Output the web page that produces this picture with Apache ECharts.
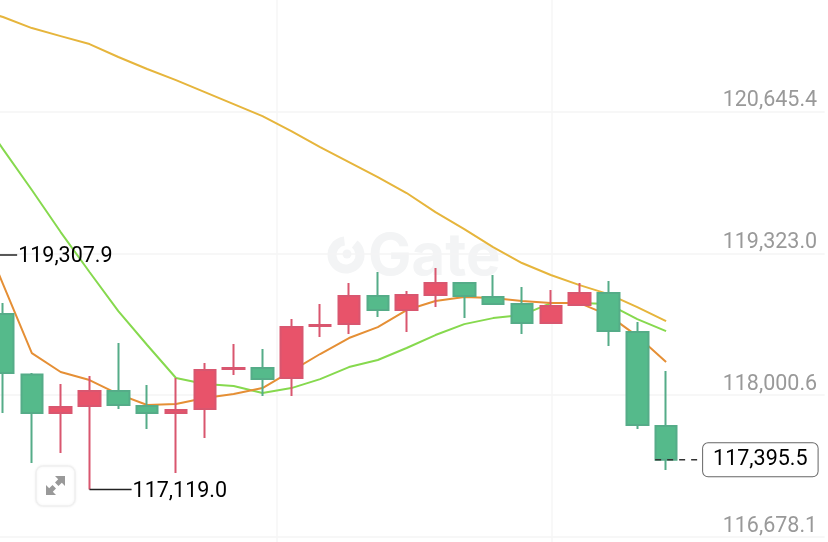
<!DOCTYPE html>
<html><head><meta charset="utf-8">
<style>html,body{margin:0;padding:0;background:#fff}#c{width:828px;height:542px}</style>
<script src="https://cdn.jsdelivr.net/npm/echarts@6/dist/echarts.min.js"></script>
</head><body><div id="c"></div>
<script>
const categories = Array.from({length:30}, (_, i) => String(i));
// [open, close, low, high]
const candles = [
 [119200,118800,118600,119307.9],
 [118757,118206,117833,118859],[118191,117832,117366,118205],[117832,117888,117459,118103],
 [117897,118037,117119,118177],[118037,117907,117869,118485],[117897,117832,117683,118093],
 [117832,117860,117272,118159],[117869,118233,117599,118299],[118243,118252,118187,118476],
 [118252,118149,117991,118429],[118159,118634,117991,118709],[118644,118653,118541,118849],
 [118662,118924,118569,119045],[118924,118793,118728,119148],[118793,118933,118588,118970],
 [118933,119045,118821,119185],[119045,118924,118718,119054],[118914,118849,118849,119120],
 [118849,118672,118569,119008],[118672,118830,118672,118980],[118840,118952,118840,119045],
 [118952,118597,118457,119064],[118588,117720,117683,118681],[117711,117395.5,117300,118224]
];
const maLong = [121611,121527,121424,121349,121275,121154,121042,120939,120827,120715,120603,120463,120314,120174,120034,119885,119707,119549,119381,119232,119120,119026,118942,118821,118690];
const maMid = [120678,120295,119913,119521,119148,118784,118467,118159,118103,118084,118019,118065,118149,118261,118327,118439,118560,118662,118718,118746,118858,118858,118849,118709,118597];
const maShort = [119679,119036,118392,118215,118140,118009,117907,117916,117972,118009,118065,118224,118383,118532,118634,118793,118877,118914,118905,118877,118858,118858,118746,118550,118308];
const priceTicks = [116678.1,118000.6,119323.0,120645.4];
const highMark = [[0,119307.9],[1.49,119307.9]];
const lowMark = [[4,117119.0],[5.46,117119.0]];
const lastMark = [[23.62,117395.5],[25.18,117395.5]];
const timeTicks = [10.5,20.04];

const fmt = v => Number(v).toLocaleString('en-US',{minimumFractionDigits:1,maximumFractionDigits:1});
const FONT = 'Roboto, sans-serif';
const chart = echarts.init(document.getElementById('c'), null, {renderer:'canvas'});
const maLine = (data,color,name) => ({name,type:'line',data,xAxisIndex:0,yAxisIndex:0,showSymbol:false,symbol:'none',smooth:false,silent:true,z:2,lineStyle:{color,width:2}});
const callout = (data,name,label,style) => ({name,type:'line',data,xAxisIndex:1,yAxisIndex:0,showSymbol:false,symbol:'none',silent:true,z:5,
  lineStyle:style,
  endLabel:Object.assign({show:true,formatter:p=>fmt(p.value[1]),fontFamily:FONT,fontSize:21.5,color:'#000',distance:1,offset:[0,2]},label)});
chart.setOption({
  animation:false,
  backgroundColor:'#fff',
  graphic:[
    {type:'arc',z:-1,shape:{cx:346,cy:255,r:14,startAngle:-0.9,endAngle:4.6},style:{stroke:'#f3f4f5',lineWidth:9,fill:null}},
    {type:'circle',z:-1,shape:{cx:347,cy:254,r:4.5},style:{fill:'#f3f4f5'}},
    {type:'text',z:-1,x:368,y:229,style:{text:'Gate',font:'bold 58px Inter, sans-serif',fill:'#f3f4f5'}},
    {type:'rect',z:10,shape:{x:36,y:466,width:39,height:40,r:7},style:{fill:'#fff',stroke:'#f0f0f0',lineWidth:1.5,shadowBlur:3,shadowColor:'rgba(0,0,0,0.05)'}},
    {type:'polygon',z:11,shape:{points:[[46,495],[46,485],[49.2,488.2],[52.5,485],[56,488.5],[52.8,491.8],[56,495]]},style:{fill:'#999'}},
    {type:'polygon',z:11,shape:{points:[[65,476],[65,486],[61.8,482.8],[58.5,486],[55,482.5],[58.2,479.2],[55,476]]},style:{fill:'#999'}}
  ],
  grid:{left:-40.24,top:0,width:864.9,height:542,containLabel:false,outerBoundsMode:'none'},
  tooltip:{show:false},
  xAxis:[
    {type:'category',data:categories,show:false,boundaryGap:true},
    {type:'value',min:-0.5,max:29.5,position:'bottom',
      axisLine:{show:false},axisLabel:{show:false},
      axisTick:{show:false,customValues:timeTicks},
      splitLine:{show:true,lineStyle:{color:'#f6f6f6',width:1.5}}}
  ],
  yAxis:[{type:'value',position:'right',min:116629,max:121686,
    axisLine:{show:false},
    axisTick:{show:false,customValues:priceTicks},
    axisLabel:{inside:true,margin:7.5,customValues:priceTicks,verticalAlign:'bottom',formatter:fmt,
      color:'#999',fontFamily:FONT,fontSize:21.5,lineHeight:21},
    splitLine:{show:true,lineStyle:{color:'#f5f5f5',width:1.5}}}],
  series:[
    maLine(maLong,'#E6B53C','MA long'),
    maLine(maMid,'#86D94E','MA mid'),
    maLine(maShort,'#E58F35','MA short'),
    {name:'Price',type:'candlestick',data:candles,barWidth:22,z:3,silent:true,
      itemStyle:{color:'#E8536A',color0:'#55BA8B',borderColor:'#D9566F',borderColor0:'#55AC88',borderWidth:2}},
    callout(highMark,'High',{},{color:'#222',width:1.5}),
    callout(lowMark,'Low',{},{color:'#222',width:1.5}),
    callout(lastMark,'Last',{distance:3,offset:[0,0],backgroundColor:'#fff',borderColor:'#666',borderWidth:1,borderRadius:5,padding:[6,10,5,10]},{color:'#333',width:1.5,type:[6,6]})
  ]
});
</script></body></html>
